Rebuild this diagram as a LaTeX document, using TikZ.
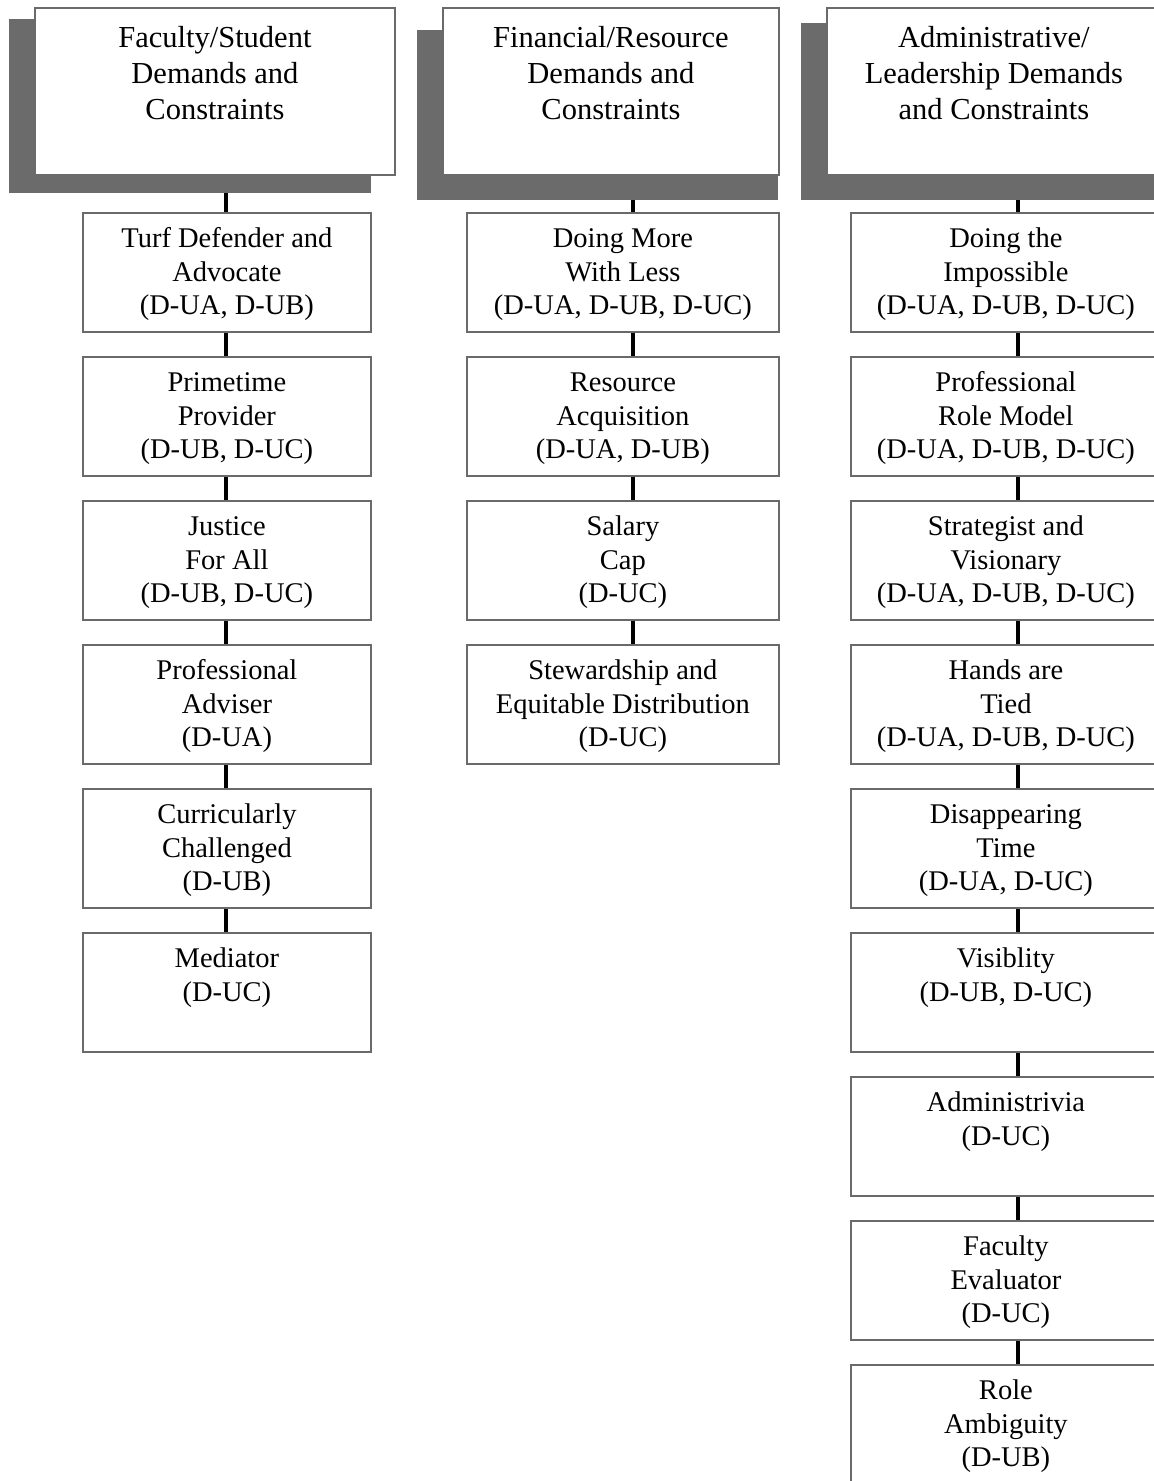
\documentclass[tikz,border=0pt]{standalone}
\usepackage{fontspec}
\setmainfont{Liberation Serif}
\definecolor{boxgray}{HTML}{6A6A6A}
\definecolor{shadowgray}{HTML}{6B6B6B}
\newcommand\cstrut{\rule[-6pt]{0pt}{30pt}}
\newcommand\hstrut{\rule[-4pt]{0pt}{29pt}}
\tikzset{
  shadowbox/.style={rectangle, fill=shadowgray, draw=none, inner sep=0pt, anchor=north west},
  hdrbox/.style={rectangle, draw=boxgray, line width=1.8pt, fill=white, inner sep=0pt,
     anchor=north west, minimum height=167pt, align=center,
     font=\fontsize{30.5}{36}\selectfont},
  rolebox/.style={rectangle, draw=boxgray, line width=1.8pt, fill=white, inner sep=0pt,
     anchor=north west, minimum height=119pt, align=center,
     font=\fontsize{28.5}{33.5}\selectfont},
  conn/.style={line width=4.8pt, black}
}
\begin{document}
\begin{tikzpicture}[x=1pt,y=-1pt]
\useasboundingbox (0,0) rectangle (1154,1481);
\fill[white] (0,0) rectangle (1154,1481);
% connector axes
\coordinate (c1) at (226,0);
\coordinate (c2) at (633,0);
\coordinate (c3) at (1018,0);
% headers
\node[shadowbox, minimum width=362pt, minimum height=174pt] (s1) at (9,19) {};
\node[hdrbox, minimum width=360pt] (h1) at (34,7)
  {\hstrut Faculty/Student\\Demands and\\Constraints\\\hstrut};
\node[shadowbox, minimum width=361pt, minimum height=170pt] (s2) at (417,30) {};
\node[hdrbox, minimum width=336pt] (h2) at (442,7)
  {\hstrut Financial/Resource\\Demands and\\Constraints\\\hstrut};
\node[shadowbox, minimum width=369pt, minimum height=177pt] (s3) at (801,23) {};
\node[hdrbox, minimum width=334pt] (h3) at (826,7)
  {\hstrut Administrative/\\Leadership Demands\\and Constraints\\\hstrut};
% column 1
\node[rolebox, minimum width=288pt] (a1) at (82,212) {\cstrut Turf Defender and\\Advocate\\(D-UA, D-UB)\cstrut};
\node[rolebox, minimum width=288pt] (a2) at (82,356) {\cstrut Primetime\\Provider\\(D-UB, D-UC)\cstrut};
\node[rolebox, minimum width=288pt] (a3) at (82,500) {\cstrut Justice\\For All\\(D-UB, D-UC)\cstrut};
\node[rolebox, minimum width=288pt] (a4) at (82,644) {\cstrut Professional\\Adviser\\(D-UA)\cstrut};
\node[rolebox, minimum width=288pt] (a5) at (82,788) {\cstrut Curricularly\\Challenged\\(D-UB)\cstrut};
\node[rolebox, minimum width=288pt] (a6) at (82,932) {\cstrut Mediator\\(D-UC)\\\cstrut};
% column 2
\node[rolebox, minimum width=312pt] (b1) at (466,212) {\cstrut Doing More\\With Less\\(D-UA, D-UB, D-UC)\cstrut};
\node[rolebox, minimum width=312pt] (b2) at (466,356) {\cstrut Resource\\Acquisition\\(D-UA, D-UB)\cstrut};
\node[rolebox, minimum width=312pt] (b3) at (466,500) {\cstrut Salary\\Cap\\(D-UC)\cstrut};
\node[rolebox, minimum width=312pt] (b4) at (466,644) {\cstrut Stewardship and\\Equitable Distribution\\(D-UC)\cstrut};
% column 3
\node[rolebox, minimum width=310pt] (d1) at (850,212) {\cstrut Doing the\\Impossible\\(D-UA, D-UB, D-UC)\cstrut};
\node[rolebox, minimum width=310pt] (d2) at (850,356) {\cstrut Professional\\Role Model\\(D-UA, D-UB, D-UC)\cstrut};
\node[rolebox, minimum width=310pt] (d3) at (850,500) {\cstrut Strategist and\\Visionary\\(D-UA, D-UB, D-UC)\cstrut};
\node[rolebox, minimum width=310pt] (d4) at (850,644) {\cstrut Hands are\\Tied\\(D-UA, D-UB, D-UC)\cstrut};
\node[rolebox, minimum width=310pt] (d5) at (850,788) {\cstrut Disappearing\\Time\\(D-UA, D-UC)\cstrut};
\node[rolebox, minimum width=310pt] (d6) at (850,932) {\cstrut Visiblity\\(D-UB, D-UC)\\\cstrut};
\node[rolebox, minimum width=310pt] (d7) at (850,1076) {\cstrut Administrivia\\(D-UC)\\\cstrut};
\node[rolebox, minimum width=310pt] (d8) at (850,1220) {\cstrut Faculty\\Evaluator\\(D-UC)\cstrut};
\node[rolebox, minimum width=310pt] (d9) at (850,1364) {\cstrut Role\\Ambiguity\\(D-UB)\cstrut};
% connectors
\draw[conn] (s1.south -| c1) -- (a1.north -| c1);
\foreach \p/\q in {a1/a2,a2/a3,a3/a4,a4/a5,a5/a6}
  \draw[conn] (\p.south -| c1) -- (\q.north -| c1);
\draw[conn] (s2.south -| c2) -- (b1.north -| c2);
\foreach \p/\q in {b1/b2,b2/b3,b3/b4}
  \draw[conn] (\p.south -| c2) -- (\q.north -| c2);
\draw[conn] (s3.south -| c3) -- (d1.north -| c3);
\foreach \p/\q in {d1/d2,d2/d3,d3/d4,d4/d5,d5/d6,d6/d7,d7/d8,d8/d9}
  \draw[conn] (\p.south -| c3) -- (\q.north -| c3);
\end{tikzpicture}
\end{document}
